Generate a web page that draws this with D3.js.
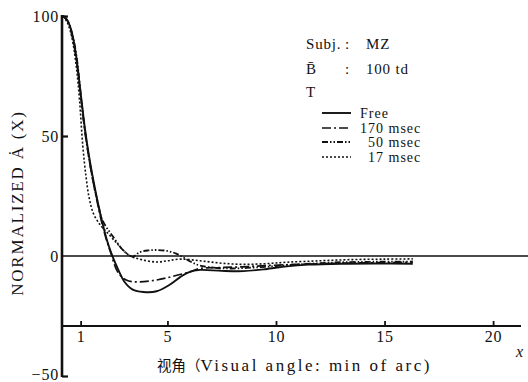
<!DOCTYPE html>
<html>
<head>
<meta charset="utf-8">
<script src="https://cdn.jsdelivr.net/npm/d3@7"></script>
<style>
  html, body { margin: 0; padding: 0; background: #fff; }
  svg { display: block; }
  text { font-family: 'Liberation Serif', serif; fill: #111; }
</style>
</head>
<body>
<svg id="chart" width="528" height="382"></svg>
<script>
// Normalized line-spread amplitude vs. visual angle, four exposure conditions
const seriesNames = ["Free", "170 msec", "50 msec", "17 msec"];

const freeX  = [0.2, 0.4, 0.6, 0.8, 1.0, 1.2, 1.4, 1.6, 1.8, 2.0, 2.2, 2.4, 2.6, 2.8, 3.0, 3.4, 3.9, 4.5, 5.1, 5.6, 6.0, 6.5, 7.5, 8.5, 9.5, 10.5, 11.5, 13, 14.5, 16.3];
const freeY  = [100, 98, 93, 83, 68, 53, 41, 31, 22, 14, 7, 1.5, -3, -7, -10.5, -14, -15, -14.7, -12, -8.7, -6.7, -5.8, -6.2, -6.3, -5.5, -4.3, -3.6, -3.2, -3.1, -3.2];

const t170X  = [0.2, 0.4, 0.6, 0.8, 1.0, 1.2, 1.4, 1.6, 1.8, 2.0, 2.2, 2.4, 2.7, 3.1, 3.7, 4.5, 5.2, 6.0, 6.5, 7.5, 8.5, 9.5, 11, 13, 14.5, 16.3];
const t170Y  = [100, 98, 92, 82, 67, 52, 40, 30, 21, 13, 6.5, 1, -6.5, -10, -10.8, -10, -8.6, -6.7, -5.2, -4.8, -4.5, -4, -3.5, -3, -2.8, -2.6];

const t50X   = [0.2, 0.4, 0.6, 0.8, 1.0, 1.2, 1.4, 1.6, 1.8, 2.0, 2.5, 3.0, 3.4, 3.7, 4.1, 4.5, 5.0, 5.4, 5.7, 6.1, 6.5, 7.3, 8, 9, 10, 11, 12, 13, 14.5, 16.3];
const t50Y   = [100, 98, 93, 84, 68, 52, 40, 30, 22, 15, 8, 2, -0.3, 1.5, 2.3, 2.5, 2.1, 1, -0.4, -2.5, -4, -5, -5.2, -4.8, -4.2, -3.5, -3, -2.6, -2.4, -2.3];

const t17X   = [0.2, 0.4, 0.6, 0.8, 0.95, 1.1, 1.25, 1.4, 1.6, 1.9, 2.2, 2.6, 2.9, 3.3, 3.8, 4.5, 5.0, 5.6, 6.5, 7.5, 8.5, 9.5, 10.5, 12, 13.5, 15, 16.3];
const t17Y   = [100, 97, 91, 79, 65, 46, 33, 24, 17.5, 13, 10, 6, 3, 0, -1.5, -2.5, -2, -1.3, -2, -3, -3.5, -3.2, -2.6, -2, -1.5, -1.3, -1.2];

const xTicks = [1, 5, 10, 15, 20];
const yTicks = [100, 50, 0, -50];

const svg = d3.select("#chart");

const x = d3.scaleLinear().domain([0, 20]).range([58.9, 493.1]);
const y = d3.scaleLinear().domain([-50, 100]).range([376, 16]);

const axisX0 = 62;      // y axis position
const baseY = 326;      // horizontal axis position
const serif = "'Liberation Serif', serif";

// vertical axis
const yAxis = d3.axisLeft(y).tickValues(yTicks).tickSize(-6).tickPadding(3)
  .tickFormat(d => d < 0 ? "\u221250" : String(d));
const gy = svg.append("g").attr("transform", `translate(${axisX0},0)`).call(yAxis);
gy.select(".domain").remove();
gy.selectAll(".tick line").attr("stroke", "#111").attr("stroke-width", 2.2);
gy.selectAll(".tick text")
  .style("font-family", serif).style("font-size", "16px")
  .attr("letter-spacing", "0.8").attr("fill", "#111");
gy.selectAll(".tick").filter(d => d === 0).select("line").remove();
gy.selectAll(".tick").filter(d => d === -50).select("text").attr("dy", "0.2em");
svg.append("line").attr("x1", axisX0).attr("x2", axisX0)
  .attr("y1", y(100) - 1).attr("y2", y(-50) + 1)
  .attr("stroke", "#111").attr("stroke-width", 2.6);

// zero reference line
svg.append("line").attr("x1", axisX0).attr("x2", 528)
  .attr("y1", y(0)).attr("y2", y(0))
  .attr("stroke", "#111").attr("stroke-width", 1.6);

// horizontal axis
const xAxis = d3.axisBottom(x).tickValues(xTicks).tickSize(-5).tickPadding(5)
  .tickFormat(d3.format("d"));
const gx = svg.append("g").attr("transform", `translate(0,${baseY})`).call(xAxis);
gx.select(".domain").remove();
gx.selectAll(".tick line").attr("stroke", "#111").attr("stroke-width", 1.8);
gx.selectAll(".tick text")
  .style("font-family", serif).style("font-size", "16px")
  .attr("letter-spacing", "0.8").attr("fill", "#111");
svg.append("line").attr("x1", axisX0).attr("x2", 521)
  .attr("y1", baseY).attr("y2", baseY)
  .attr("stroke", "#111").attr("stroke-width", 2.2);

// curves
const styles = {
  "Free":     { dash: null,              width: 1.9 },
  "170 msec": { dash: "9,3,2,3",         width: 1.7 },
  "50 msec":  { dash: "6,2,1.5,2,1.5,2", width: 1.8 },
  "17 msec":  { dash: "2,2",             width: 1.6 }
};
const seriesData = [
  { name: "Free",     xs: freeX, ys: freeY },
  { name: "170 msec", xs: t170X, ys: t170Y },
  { name: "50 msec",  xs: t50X,  ys: t50Y },
  { name: "17 msec",  xs: t17X,  ys: t17Y }
];
const line = d3.line().x(d => x(d[0])).y(d => y(d[1])).curve(d3.curveCatmullRom.alpha(0.5));
svg.append("g").selectAll("path").data(seriesData).join("path")
  .attr("d", s => line(s.xs.map((v, i) => [v, s.ys[i]])))
  .attr("fill", "none").attr("stroke", "#111")
  .attr("stroke-width", s => styles[s.name].width)
  .attr("stroke-dasharray", s => styles[s.name].dash);

// axis titles
svg.append("text").attr("transform", "translate(23,203) rotate(-90)")
  .attr("text-anchor", "middle").style("font-family", serif).style("font-size", "17px")
  .attr("letter-spacing", "1.8")
  .text("NORMALIZED \u0226 (X)");

const xt = svg.append("text").attr("x", 157).attr("y", 371);
xt.append("tspan").style("font-family", "'Noto Sans CJK SC', sans-serif")
  .style("font-size", "14.5px").text("视角（");
xt.append("tspan").style("font-family", serif).style("font-size", "17px")
  .attr("letter-spacing", "2.5").text("Visual angle: min of arc)");

svg.append("text").attr("x", 516).attr("y", 357).style("font-family", serif)
  .style("font-size", "16px").style("font-style", "italic").text("x");

// annotation block
const info = svg.append("g").style("font-family", serif).style("font-size", "15px")
  .attr("letter-spacing", "0.8");
info.append("text").attr("x", 306).attr("y", 49).text("Subj.");
info.append("text").attr("x", 345).attr("y", 49).text(":");
info.append("text").attr("x", 366).attr("y", 49).text("MZ");
info.append("text").attr("x", 306).attr("y", 74).text("B\u0304");
info.append("text").attr("x", 345).attr("y", 74).text(":");
info.append("text").attr("x", 366).attr("y", 74).text("100 td");
info.append("text").attr("x", 306).attr("y", 97).text("T");

const legendY = [113, 128, 142, 157];
const legendTextX = [360, 360, 368, 368];
const leg = svg.append("g").selectAll("g").data(seriesNames).join("g");
leg.append("line")
  .attr("x1", 322).attr("x2", 351)
  .attr("y1", (d, i) => legendY[i]).attr("y2", (d, i) => legendY[i])
  .attr("stroke", "#111").attr("stroke-width", d => styles[d].width)
  .attr("stroke-dasharray", d => styles[d].dash);
leg.append("text")
  .attr("x", (d, i) => legendTextX[i]).attr("y", (d, i) => legendY[i] + 5)
  .style("font-family", serif).style("font-size", "14px").attr("letter-spacing", "1")
  .text(d => d);
</script>
</body>
</html>
